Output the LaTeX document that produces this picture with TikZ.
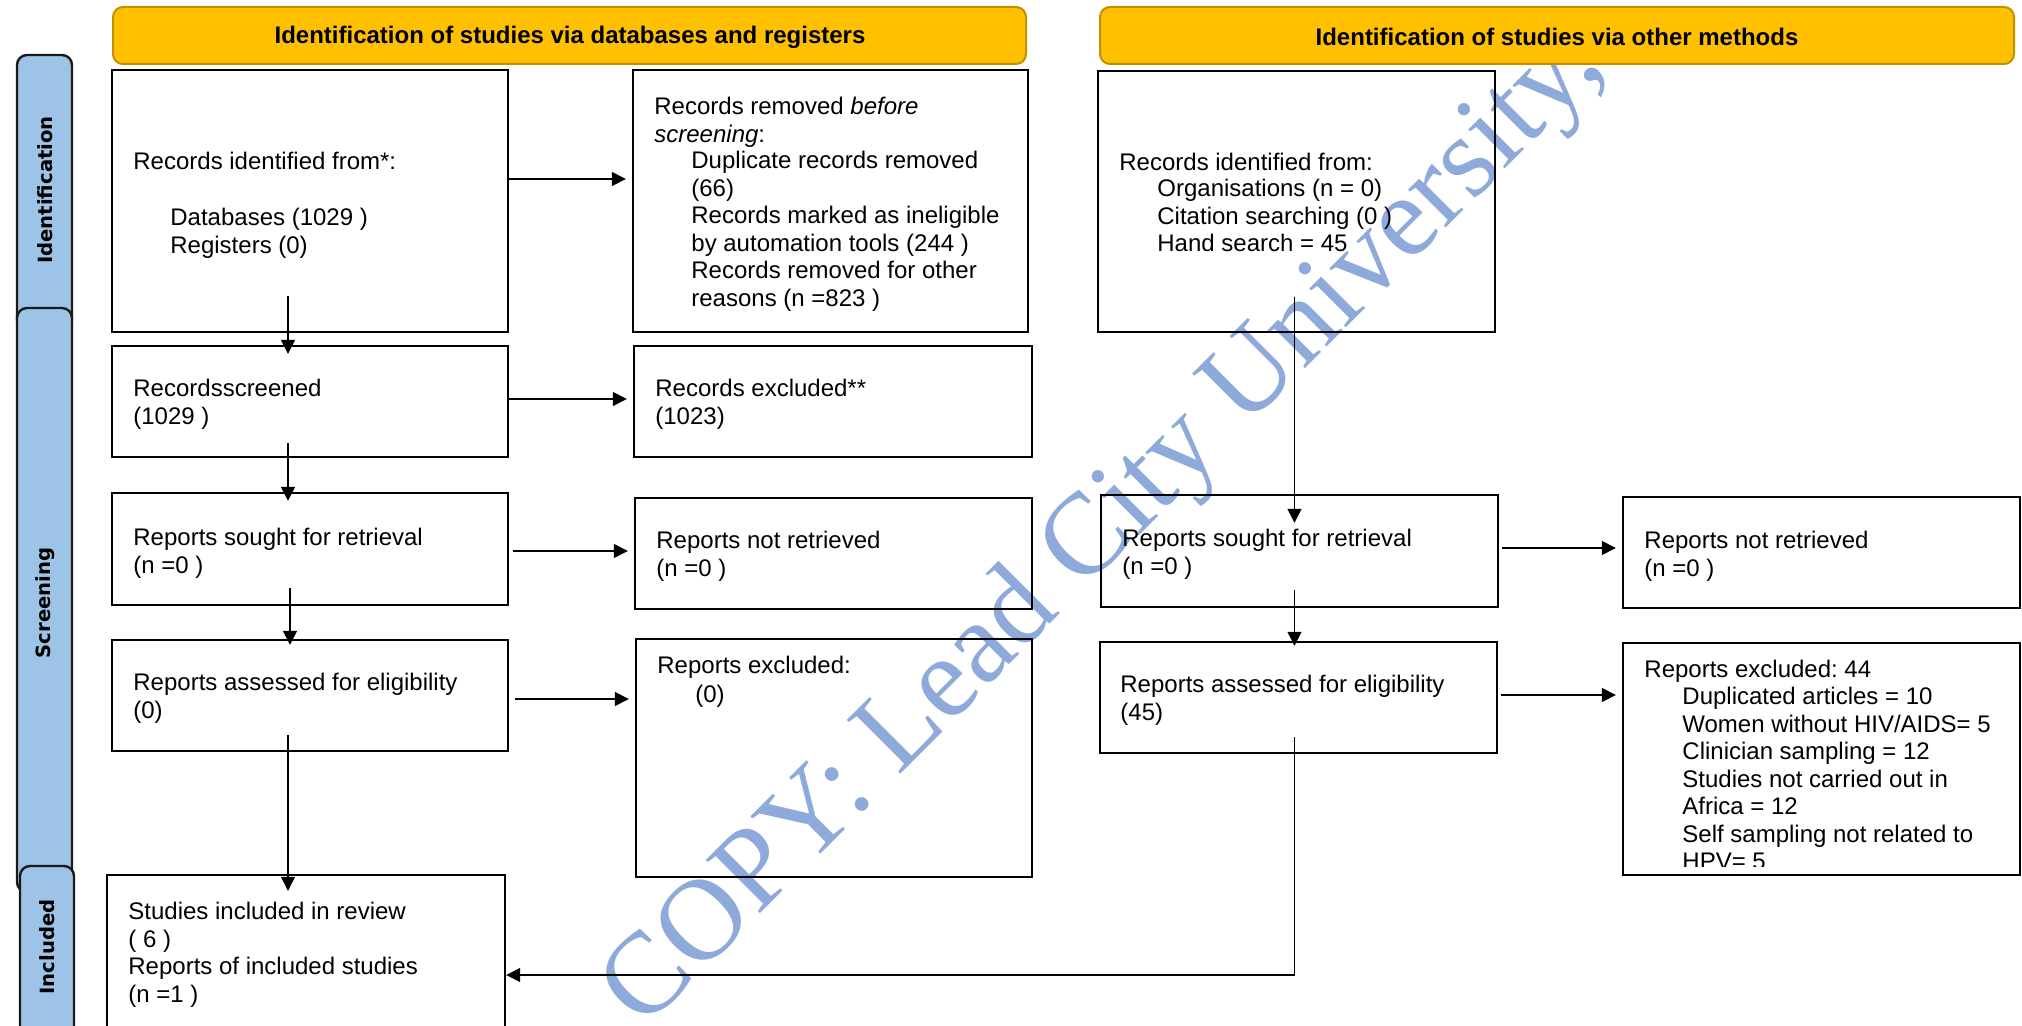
\documentclass[tikz,border=0pt]{standalone}
\usepackage{fontspec}
\setmainfont{Liberation Sans}
\newfontfamily\sidefont{DejaVu Sans}
\newfontfamily\wmserif{Liberation Serif}
\usetikzlibrary{arrows.meta,fit}
\frenchspacing
\definecolor{hdrfill}{HTML}{FFC000}
\definecolor{hdrdraw}{HTML}{C09000}
\definecolor{sidefill}{HTML}{9DC3E6}
\definecolor{sidedraw}{HTML}{1A1A1A}
\definecolor{wmblue}{HTML}{8EAADB}
\tikzset{
 box/.style={draw=black, line width=1.2pt, inner sep=0pt},
 hdr/.style={draw=hdrdraw, fill=hdrfill, line width=1pt, rounded corners=5pt, inner sep=0pt},
 side/.style={draw=sidedraw, fill=sidefill, line width=1.2pt, rounded corners=5pt, inner sep=0pt},
 txt/.style={anchor=north west, inner sep=0pt, align=left, font=\fontsize{12}{13.75}\selectfont},
 hdrtxt/.style={inner sep=0pt, font=\fontsize{12}{13.75}\selectfont\bfseries},
 sidetxt/.style={inner sep=0pt, rotate=90, font=\sidefont\fontsize{9.8}{12}\selectfont\bfseries},
 arr/.style={line width=0.7pt, -{Triangle[length=7pt,width=7pt]}},
 harr/.style={arr, shorten >=3pt},
}
\begin{document}
\begin{tikzpicture}[x=0.5pt,y=-0.5pt]
\clip (0,0) rectangle (2022,1026);
\fill[white] (0,0) rectangle (2022,1026);
% watermark
\node[rotate=45, text=wmblue, inner sep=0pt, font=\wmserif\fontsize{58}{64}\selectfont] (wm) at (1105,530) {COPY: Lead City University,};
% side bars
\node[side, fit={(17,55) (72,330)}] (sbid) {};
\node[side, fit={(17,308) (72,892)}] (sbsc) {};
\node[side, fit={(20,866) (74,1060)}] (sbin) {};
\node[sidetxt] (tid) at (45,190) {Identification};
\node[sidetxt] (tsc) at (45,603) {Screening};
\node[sidetxt] (tin) at (47,947) {Included};
% headers
\node[hdr, fit={(113,7) (1026,64)}] (h1) {};
\node[hdr, fit={(1100,7) (2014,64)}] (h2) {};
\node[hdrtxt] (h1t) at (570,37) {Identification of studies via databases and registers};
\node[hdrtxt] (h2t) at (1557,37) {Identification of studies via other methods};
% boxes
\node[box, fit={(112,70) (508,332)}] (a1) {};
\node[box, fit={(633,70) (1028,332)}] (a2) {};
\node[box, fit={(112,346) (508,457)}] (b1) {};
\node[box, fit={(634,346) (1032,457)}] (b2) {};
\node[box, fit={(112,493) (508,605)}] (c1) {};
\node[box, fit={(635,498) (1032,609)}] (c2) {};
\node[box, fit={(112,640) (508,751)}] (d1) {};
\node[box, fit={(636,639) (1032,877)}] (d2) {};
\node[box, fit={(107,875) (505,1060)}] (e) {};
\node[box, fit={(1098,71) (1495,332)}] (f1) {};
\node[box, fit={(1101,495) (1498,607)}] (g1) {};
\node[box, fit={(1623,497) (2020,608)}] (g2) {};
\node[box, fit={(1100,642) (1497,753)}] (h1b) {};
\node[box, fit={(1623,643) (2020,875)}] (h2b) {};
% texts
\node[txt] (a1t) at (133,150) {\strut Records identified from*:};
\node[txt] (a1u) at (170,206) {\strut Databases (1029 )\\Registers (0)};
\node[txt] (a2t) at (654,95) {\strut Records removed \textit{before}\\\textit{screening}:};
\node[txt] (a2u) at (691,149) {\strut Duplicate records removed\\(66)\\Records marked as ineligible\\by automation tools (244 )\\Records removed for other\\reasons (n =823 )};
\node[txt] (b1t) at (133,377) {\strut Recordsscreened\\(1029 )};
\node[txt] (b2t) at (655,377) {\strut Records excluded**\\(1023)};
\node[txt] (c1t) at (133,526) {\strut Reports sought for retrieval\\(n =0 )};
\node[txt] (c2t) at (656,529) {\strut Reports not retrieved\\(n =0 )};
\node[txt] (d1t) at (133,671) {\strut Reports assessed for eligibility\\(0)};
\node[txt] (d2t) at (657,654) {\strut Reports excluded:};
\node[txt] (d2u) at (695,683) {\strut (0)};
\node[txt] (et) at (128,900) {\strut Studies included in review\\( 6 )\\Reports of included studies\\(n =1 )};
\node[txt] (f1t) at (1119,151) {\strut Records identified from:};
\node[txt] (f1u) at (1157,177) {\strut Organisations (n = 0)\\Citation searching (0 )\\Hand search = 45};
\node[txt] (g1t) at (1122,527) {\strut Reports sought for retrieval\\(n =0 )};
\node[txt] (g2t) at (1644,529) {\strut Reports not retrieved\\(n =0 )};
\node[txt] (h1t2) at (1120,673) {\strut Reports assessed for eligibility\\(45)};
\node[txt] (h2t2) at (1644,658) {\strut Reports excluded: 44};
\begin{scope}
\clip (1630,650) rectangle (2015,866);
\node[txt] (h2u) at (1682,685) {\strut Duplicated articles = 10\\Women without HIV/AIDS= 5\\Clinician sampling = 12\\Studies not carried out in\\Africa = 12\\Self sampling not related to\\HPV= 5};
\end{scope}
% connector helpers
\coordinate (ya) at (0,179);
\coordinate (yb) at (0,399);
\coordinate (yc) at (0,551);
\coordinate (yd) at (0,699);
\coordinate (yg) at (0,548);
\coordinate (yh) at (0,695);
\coordinate (ye) at (0,975);
\coordinate (a1s) at (288,296);
\coordinate (b1s) at (288,443);
\coordinate (c1s) at (290,588);
\coordinate (d1s) at (288,735);
\coordinate (f1s) at (1294.5,297);
\coordinate (g1s) at (1294.5,590);
\coordinate (h1s) at (1294.5,737);
\coordinate (hcorner) at (1294.5,975);
% horizontal connectors
\draw[harr] (a1.east |- ya) -- (a2.west |- ya);
\draw[harr] (b1.east |- yb) -- (b2.west |- yb);
\draw[harr] ([xshift=2pt]c1.east |- yc) -- (c2.west |- yc);
\draw[harr] ([xshift=3pt]d1.east |- yd) -- (d2.west |- yd);
\draw[harr] ([xshift=1.5pt]g1.east |- yg) -- (g2.west |- yg);
\draw[harr] ([xshift=1.5pt]h1b.east |- yh) -- (h2b.west |- yh);
% vertical connectors
\draw[arr] (a1s) -- ([yshift=-4.5pt]a1s |- b1.north);
\draw[arr] (b1s) -- ([yshift=-4.5pt]b1s |- c1.north);
\draw[arr] (c1s) -- ([yshift=-3pt]c1s |- d1.north);
\draw[arr] (d1s) -- ([yshift=-8.5pt]d1s |- e.north);
\draw[arr] (f1s) -- ([yshift=-14.5pt]f1s |- g1.north);
\draw[arr] (g1s) -- ([yshift=-2.5pt]g1s |- h1b.north);
\draw[arr] (h1s) -- (hcorner) -- (e.east |- ye);
\end{tikzpicture}
\end{document}
